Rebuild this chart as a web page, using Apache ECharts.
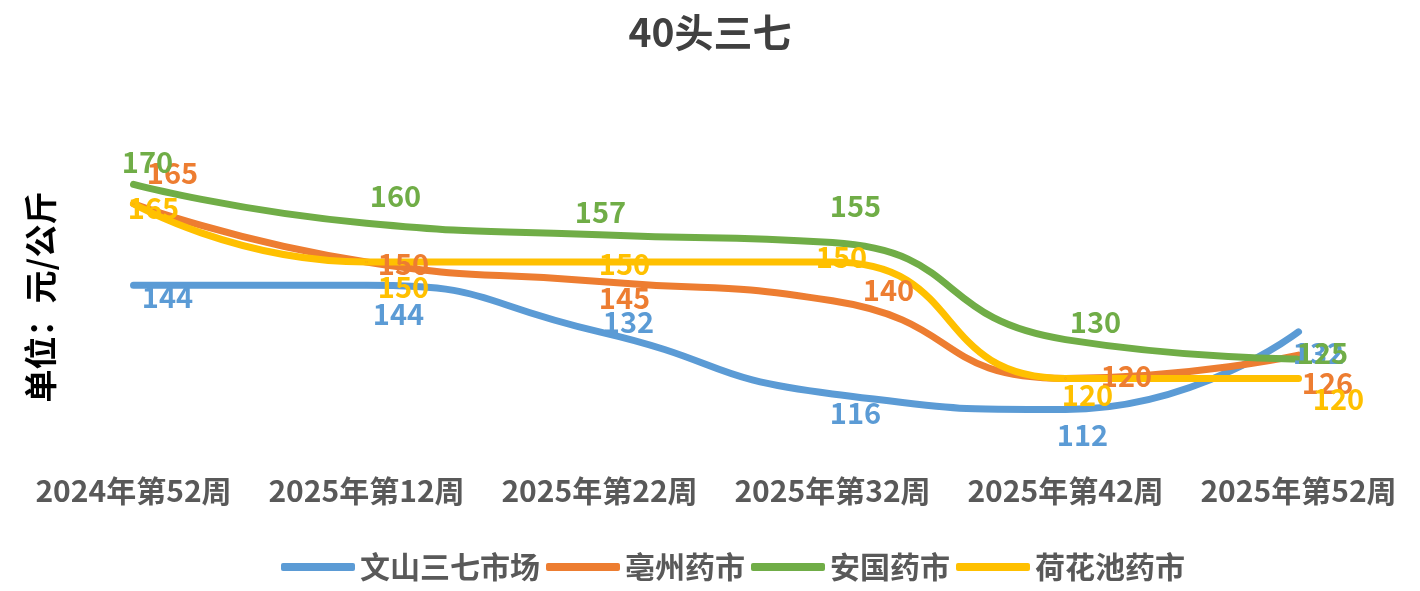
<!DOCTYPE html>
<html>
<head>
<meta charset="utf-8">
<script src="https://cdn.jsdelivr.net/npm/echarts@6/dist/echarts.min.js"></script>
<style>
  html, body { margin: 0; padding: 0; background: #fff; }
  #chart { width: 1420px; height: 591px; }
</style>
</head>
<body>
<div id="chart"></div>
<script>
// categories and values
var weeks = ['2024年第52周', '2025年第12周', '2025年第22周', '2025年第32周', '2025年第42周', '2025年第52周'];
var wenshan = [144, 144, 132, 116, 112, 132];
var bozhou = [165, 150, 145, 140, 120, 126];
var anguo = [170, 160, 157, 155, 130, 125];
var hehuachi = [165, 150, 150, 150, 120, 120];

// label offsets (px) per point, mimicking the hand-placed labels
var offWenshan = [[34, 12], [32, 29], [29, -10], [23, 19], [17, 26], [20, 21]];
var offBozhou = [[39, -31], [37, 2], [25, 17], [56, -11], [61, -2], [29, 28]];
var offAnguo = [[14, -22], [29, -27], [1, -23], [23, -37], [30, -18], [24, -6]];
var offHehuachi = [[20, 4], [37, 25], [25, 2], [9, -5], [22, 17], [40, 21]];

var FONT = "'Noto Sans CJK SC', 'Noto Sans', sans-serif";

function makeSeries(name, values, offsets, color) {
    return {
        name: name,
        type: 'line',
        smooth: 0.55,
        symbol: 'circle',
        symbolSize: 2,
        showSymbol: true,
        lineStyle: { width: 7, color: color, cap: 'round' },
        itemStyle: { color: color },
        data: values.map(function(v, i) {
            return {
                value: v,
                label: { offset: offsets[i] }
            };
        }),
        label: {
            show: true,
            position: 'inside',
            color: color,
            fontSize: 29,
            fontWeight: 'bold',
            fontFamily: FONT
        }
    };
}

var chart = echarts.init(document.getElementById('chart'));

chart.setOption({
    animation: false,
    backgroundColor: '#fff',
    title: {
        text: '40头三七',
        left: 'center',
        top: 8,
        textStyle: { color: '#404040', fontSize: 39, fontWeight: 'bold', fontFamily: FONT }
    },
    graphic: [{
        type: 'text',
        x: 40,
        y: 297,
        rotation: Math.PI / 2,
        style: {
            text: '单位：元/公斤',
            fill: '#000',
            font: 'bold 33px ' + FONT,
            textAlign: 'center',
            textVerticalAlign: 'middle'
        }
    }],
    legend: {
        bottom: 4,
        left: 276,
        icon: 'roundRect',
        itemWidth: 74,
        itemHeight: 8,
        itemGap: 6,
        textStyle: { color: '#595959', fontSize: 30, fontWeight: 'bold', fontFamily: FONT },
        data: ['文山三七市场', '亳州药市', '安国药市', '荷花池药市']
    },
    grid: { left: 17, right: 5, top: 68, bottom: 135 },
    xAxis: {
        type: 'category',
        data: weeks,
        boundaryGap: true,
        axisLine: { show: false },
        axisTick: { show: false },
        axisLabel: { interval: 0, color: '#595959', fontSize: 30, fontWeight: 'bold', fontFamily: FONT, margin: 20 }
    },
    yAxis: {
        type: 'value',
        min: 100,
        max: 200,
        show: false,
        splitLine: { show: false }
    },
    series: [
        makeSeries('文山三七市场', wenshan, offWenshan, '#5B9BD5'),
        makeSeries('亳州药市', bozhou, offBozhou, '#ED7D31'),
        makeSeries('安国药市', anguo, offAnguo, '#70AD47'),
        makeSeries('荷花池药市', hehuachi, offHehuachi, '#FFC000')
    ]
});
</script>
</body>
</html>
